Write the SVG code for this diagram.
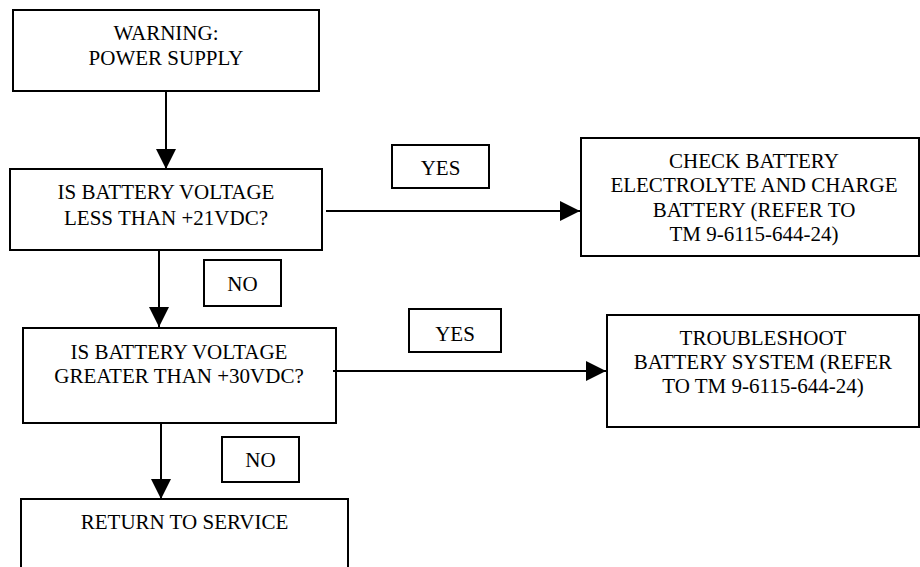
<svg xmlns="http://www.w3.org/2000/svg" width="920" height="567" viewBox="0 0 920 567">
<style>
.box{fill:#fff;stroke:#000;stroke-width:2}
.lbl{fill:#fff;stroke:#000;stroke-width:2}
.conn line{stroke:#000;stroke-width:2}
</style>
<defs>
<marker id="ah" markerUnits="userSpaceOnUse" markerWidth="20" markerHeight="20" refX="20" refY="10" orient="auto" viewBox="0 0 20 20">
<path d="M0,0 L20,10 L0,20 z" fill="#000"/>
</marker>
</defs>
<g font-family="Liberation Serif, serif" font-size="21" fill="#000" text-anchor="middle">
<g id="n-warning">
<rect class="box" x="13" y="10" width="306" height="81"/>
<text x="166" y="40">WARNING:</text>
<text x="166" y="65">POWER SUPPLY</text>
</g>
<g id="n-less21">
<rect class="box" x="10" y="169" width="312" height="81"/>
<text x="166" y="199">IS BATTERY VOLTAGE</text>
<text x="166" y="225">LESS THAN +21VDC?</text>
</g>
<g id="n-greater30">
<rect class="box" x="23" y="328" width="313" height="95"/>
<text x="179" y="359">IS BATTERY VOLTAGE</text>
<text x="179" y="383">GREATER THAN +30VDC?</text>
</g>
<g id="n-return">
<rect class="box" x="21" y="499" width="327" height="80"/>
<text x="184.5" y="529">RETURN TO SERVICE</text>
</g>
<g id="n-check">
<rect class="box" x="581" y="138" width="338" height="118"/>
<text x="754" y="168">CHECK BATTERY</text>
<text x="754" y="192">ELECTROLYTE AND CHARGE</text>
<text x="754" y="217">BATTERY (REFER TO</text>
<text x="754" y="241">TM 9-6115-644-24)</text>
</g>
<g id="n-troubleshoot">
<rect class="box" x="607" y="315" width="312" height="112"/>
<text x="763" y="345">TROUBLESHOOT</text>
<text x="763" y="369">BATTERY SYSTEM (REFER</text>
<text x="763" y="393">TO TM 9-6115-644-24)</text>
</g>
<g id="l-yes1">
<rect class="lbl" x="392" y="145" width="97" height="43"/>
<text x="440.5" y="175">YES</text>
</g>
<g id="l-no1">
<rect class="lbl" x="204" y="260" width="77" height="46"/>
<text x="242.5" y="291">NO</text>
</g>
<g id="l-yes2">
<rect class="lbl" x="409" y="309" width="92" height="43"/>
<text x="455" y="341">YES</text>
</g>
<g id="l-no2">
<rect class="lbl" x="222" y="437" width="77" height="45"/>
<text x="260.5" y="467">NO</text>
</g>
</g>
<g class="conn" id="connectors">
<line x1="166" y1="91" x2="166" y2="169" marker-end="url(#ah)"/>
<line x1="159" y1="250" x2="159" y2="327" marker-end="url(#ah)"/>
<line x1="161" y1="423" x2="161" y2="499" marker-end="url(#ah)"/>
<line x1="326" y1="211" x2="580" y2="211" marker-end="url(#ah)"/>
<line x1="333" y1="371" x2="606" y2="371" marker-end="url(#ah)"/>
</g>
</svg>
